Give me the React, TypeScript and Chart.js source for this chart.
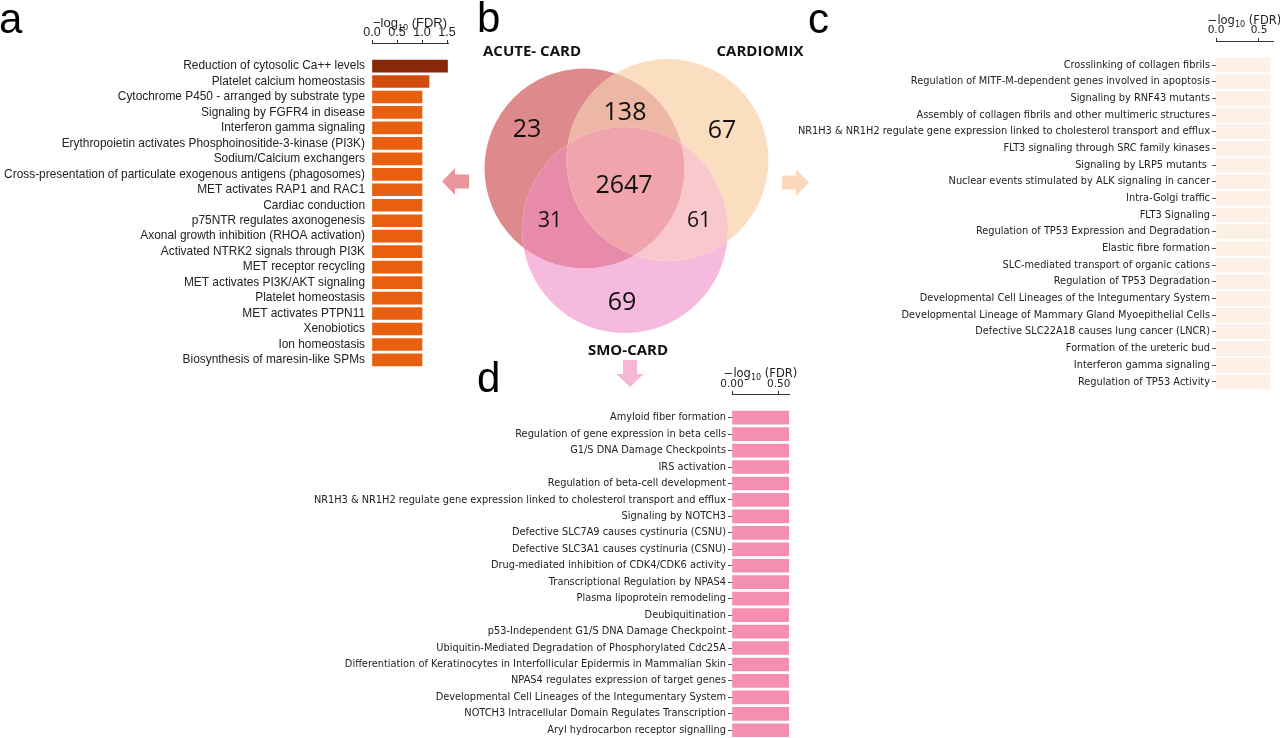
import { useEffect, useRef } from "react";
import { Chart, registerables } from "chart.js";

Chart.register(...registerables);

// panel a: ACUTE-CARD specific pathways
const acuteLabels = [
  "Reduction of cytosolic Ca++ levels",
  "Platelet calcium homeostasis",
  "Cytochrome P450 - arranged by substrate type",
  "Signaling by FGFR4 in disease",
  "Interferon gamma signaling",
  "Erythropoietin activates Phosphoinositide-3-kinase (PI3K)",
  "Sodium/Calcium exchangers",
  "Cross-presentation of particulate exogenous antigens (phagosomes)",
  "MET activates RAP1 and RAC1",
  "Cardiac conduction",
  "p75NTR regulates axonogenesis",
  "Axonal growth inhibition (RHOA activation)",
  "Activated NTRK2 signals through PI3K",
  "MET receptor recycling",
  "MET activates PI3K/AKT signaling",
  "Platelet homeostasis",
  "MET activates PTPN11",
  "Xenobiotics",
  "Ion homeostasis",
  "Biosynthesis of maresin-like SPMs",
];
const acuteValues = [1.51, 1.14, 1.0, 1.0, 1.0, 1.0, 1.0, 1.0, 1.0, 1.0, 1.0, 1.0, 1.0, 1.0, 1.0, 1.0, 1.0, 1.0, 1.0, 1.0];

// panel c: CARDIOMIX specific pathways
const cardioLabels = [
  "Crosslinking of collagen fibrils",
  "Regulation of MITF-M-dependent genes involved in apoptosis",
  "Signaling by RNF43 mutants",
  "Assembly of collagen fibrils and other multimeric structures",
  "NR1H3 & NR1H2 regulate gene expression linked to cholesterol transport and efflux",
  "FLT3 signaling through SRC family kinases",
  "Signaling by LRP5 mutants ",
  "Nuclear events stimulated by ALK signaling in cancer",
  "Intra-Golgi traffic",
  "FLT3 Signaling",
  "Regulation of TP53 Expression and Degradation",
  "Elastic fibre formation",
  "SLC-mediated transport of organic cations",
  "Regulation of TP53 Degradation",
  "Developmental Cell Lineages of the Integumentary System",
  "Developmental Lineage of Mammary Gland Myoepithelial Cells",
  "Defective SLC22A18 causes lung cancer (LNCR)",
  "Formation of the ureteric bud",
  "Interferon gamma signaling",
  "Regulation of TP53 Activity",
];
const cardioValues = [0.63, 0.63, 0.63, 0.63, 0.63, 0.63, 0.63, 0.63, 0.63, 0.63, 0.63, 0.63, 0.63, 0.63, 0.63, 0.63, 0.63, 0.63, 0.63, 0.63];

// panel d: SMO-CARD specific pathways
const smoLabels = [
  "Amyloid fiber formation",
  "Regulation of gene expression in beta cells",
  "G1/S DNA Damage Checkpoints",
  "IRS activation",
  "Regulation of beta-cell development",
  "NR1H3 & NR1H2 regulate gene expression linked to cholesterol transport and efflux",
  "Signaling by NOTCH3",
  "Defective SLC7A9 causes cystinuria (CSNU)",
  "Defective SLC3A1 causes cystinuria (CSNU)",
  "Drug-mediated inhibition of CDK4/CDK6 activity",
  "Transcriptional Regulation by NPAS4",
  "Plasma lipoprotein remodeling",
  "Deubiquitination",
  "p53-Independent G1/S DNA Damage Checkpoint",
  "Ubiquitin-Mediated Degradation of Phosphorylated Cdc25A",
  "Differentiation of Keratinocytes in Interfollicular Epidermis in Mammalian Skin",
  "NPAS4 regulates expression of target genes",
  "Developmental Cell Lineages of the Integumentary System",
  "NOTCH3 Intracellular Domain Regulates Transcription",
  "Aryl hydrocarbon receptor signalling",
];
const smoValues = [0.606, 0.606, 0.606, 0.606, 0.606, 0.606, 0.606, 0.606, 0.606, 0.606, 0.606, 0.606, 0.606, 0.606, 0.606, 0.606, 0.606, 0.606, 0.606, 0.606];

// venn: sets, circles (abstract units), regions keyed by bit mask (1 acute, 2 cardiomix, 4 smo)
const vennSets = ["ACUTE- CARD", "CARDIOMIX", "SMO-CARD"];
const vennX = [-0.555, 0.275, -0.15];
const vennY = [0.315, 0.4, -0.3];
const vennR = [1.0, 1.01, 1.03];
const setLabelX = [-1.08, 1.2, -0.12];
const setLabelY = [1.48, 1.48, -1.51];
const regionMasks = [1, 2, 4, 3, 5, 6, 7];
const regionCounts = [23, 67, 69, 138, 31, 61, 2647];
const regionLabelX = [-1.13, 0.82, -0.18, -0.15, -0.9, 0.59, -0.16];
const regionLabelY = [0.7, 0.69, -1.03, 0.87, -0.21, -0.21, 0.14];
const regionColors = ["#de898c", "#fbddc0", "#f6bade", "#ecb7a5", "#e88aaa", "#f8c8cd", "#efa5ab"];
const regionFont = [25, 25, 25, 25, 21, 21, 25];
const arrowX = [-1.98, 1.69, -0.1];
const arrowY = [0.185, 0.175, -1.87];
const arrowAngle = [Math.PI, 0, Math.PI / 2];
const arrowColors = ["#e8969b", "#fcd8ba", "#f7b6d9"];

const acuteColors = acuteValues.map((v) => (v > 1.4 ? "#85290a" : v > 1.1 ? "#d24b0c" : "#e8600f"));

type PanelProps = {
  labels: string[];
  values: number[];
  colors: string[] | string;
  left: number;
  top: number;
  width: number;
  height: number;
  yAxisWidth: number;
  xAxisHeight: number;
  padRight: number;
  yMin: number;
  yMax: number;
  xMax: number;
  decimals: number;
  barThickness: number;
  family: string;
  labelSize: number;
  tickSize: number;
  titleSize: number;
  titleBase: number;
  labelPadding: number;
  yTicks: boolean;
  tickPad: number;
};

function BarPanel(p: PanelProps) {
  const ref = useRef<HTMLCanvasElement>(null);

  useEffect(() => {
    let chart: Chart | undefined;
    // -log10(FDR) drawn with a real subscript, centred over the value axis
    const fdrTitle = {
      id: "fdrTitle",
      afterDraw(c: any) {
        const { ctx, chartArea: a } = c;
        const s = p.titleSize;
        const parts: [string, number, number][] = [
          ["−log", s, 0],
          ["10", s * 0.7, s * 0.25],
          [" (FDR)", s, 0],
        ];
        ctx.save();
        ctx.fillStyle = "#222";
        ctx.textAlign = "left";
        ctx.textBaseline = "alphabetic";
        let total = 0;
        parts.forEach(([t, size]) => {
          ctx.font = `${size}px ${p.family}`;
          total += ctx.measureText(t).width;
        });
        let x = (a.left + a.right) / 2 - total / 2;
        parts.forEach(([t, size, dy]) => {
          ctx.font = `${size}px ${p.family}`;
          ctx.fillText(t, x, p.titleBase + dy);
          x += ctx.measureText(t).width;
        });
        ctx.restore();
      },
    };

    if (ref.current) {
      chart = new Chart(ref.current, {
        type: "bar",
        data: {
          datasets: [
            {
              data: p.values.map((v, i) => ({ x: v, y: i })),
              backgroundColor: p.colors,
              barThickness: p.barThickness,
              borderWidth: 0,
            },
          ],
        },
        options: {
          indexAxis: "y",
          responsive: false,
          animation: false,
          events: [],
          layout: { padding: { left: 0, top: 0, right: p.padRight, bottom: 0 } },
          plugins: { legend: { display: false }, tooltip: { enabled: false } },
          scales: {
            x: {
              type: "linear",
              position: "top",
              min: 0,
              max: p.xMax,
              afterFit: (s: any) => {
                s.height = p.xAxisHeight;
                s.paddingLeft = 0;
                s.paddingRight = 0;
              },
              ticks: {
                stepSize: 0.5,
                includeBounds: false,
                maxRotation: 0,
                padding: p.tickPad,
                color: "#222",
                font: { family: p.family, size: p.tickSize },
                callback: (v: any) => Number(v).toFixed(p.decimals),
              },
              grid: { drawOnChartArea: false, drawTicks: true, tickLength: 3, color: "#333" },
              border: { display: true, color: "#333", width: 1 },
              title: { display: false },
            },
            y: {
              type: "linear",
              reverse: true,
              offset: false,
              min: p.yMin,
              max: p.yMax,
              afterFit: (s: any) => {
                s.width = p.yAxisWidth;
                s.paddingTop = 0;
                s.paddingBottom = 0;
              },
              afterBuildTicks: (s: any) => {
                s.ticks = p.labels.map((_, i) => ({ value: i }));
              },
              ticks: {
                autoSkip: false,
                padding: p.labelPadding,
                color: "#222",
                font: { family: p.family, size: p.labelSize },
                callback: (v: any) => p.labels[Number(v)] ?? "",
              },
              grid: { offset: false, drawOnChartArea: false, drawTicks: p.yTicks, tickLength: 4, color: "#555" },
              border: { display: false },
            },
          },
        },
        plugins: [fdrTitle],
      } as any);
    }
    return () => {
      chart?.destroy();
    };
  }, []);

  return (
    <canvas
      ref={ref}
      width={p.width}
      height={p.height}
      style={{ position: "absolute", left: p.left, top: p.top }}
    />
  );
}

const vennPlugin = {
  id: "vennRegions",
  beforeDatasetsDraw(chart: any) {
    const { ctx, chartArea: a } = chart;
    const sx = chart.scales.x;
    const pts = chart.getDatasetMeta(0).data;
    const unit = sx.getPixelForValue(1) - sx.getPixelForValue(0);
    regionMasks.forEach((mask, k) => {
      ctx.save();
      pts.forEach((el: any, i: number) => {
        const r = vennR[i] * unit;
        ctx.beginPath();
        if (mask & (1 << i)) {
          ctx.arc(el.x, el.y, r, 0, Math.PI * 2);
          ctx.clip();
        } else {
          ctx.rect(a.left, a.top, a.width, a.height);
          ctx.arc(el.x, el.y, r, 0, Math.PI * 2);
          ctx.clip("evenodd");
        }
      });
      ctx.fillStyle = regionColors[k];
      ctx.fillRect(a.left, a.top, a.width, a.height);
      ctx.restore();
    });
  },
  afterDatasetsDraw(chart: any) {
    const { ctx } = chart;
    const sx = chart.scales.x;
    const sy = chart.scales.y;
    ctx.save();
    ctx.textAlign = "center";
    ctx.textBaseline = "middle";
    ctx.fillStyle = "#111";
    regionCounts.forEach((n, k) => {
      ctx.font = `${regionFont[k]}px "Open Sans"`;
      ctx.fillText(String(n), sx.getPixelForValue(regionLabelX[k]), sy.getPixelForValue(regionLabelY[k]));
    });
    ctx.font = 'bold 15px "Open Sans"';
    vennSets.forEach((s, i) => {
      ctx.fillText(s, sx.getPixelForValue(setLabelX[i]), sy.getPixelForValue(setLabelY[i]));
    });
    // block arrows pointing to each set's panel
    arrowX.forEach((ax, i) => {
      const len = 27;
      const head = 13;
      const hh = 13.5;
      const sh = 7;
      ctx.save();
      ctx.translate(sx.getPixelForValue(ax), sy.getPixelForValue(arrowY[i]));
      ctx.rotate(arrowAngle[i]);
      ctx.beginPath();
      ctx.moveTo(0, 0);
      ctx.lineTo(-head, -hh);
      ctx.lineTo(-head, -sh);
      ctx.lineTo(-len, -sh);
      ctx.lineTo(-len, sh);
      ctx.lineTo(-head, sh);
      ctx.lineTo(-head, hh);
      ctx.closePath();
      ctx.fillStyle = arrowColors[i];
      ctx.fill();
      ctx.restore();
    });
    ctx.restore();
  },
};

function Venn() {
  const ref = useRef<HTMLCanvasElement>(null);

  useEffect(() => {
    let chart: Chart | undefined;
    if (ref.current) {
      chart = new Chart(ref.current, {
        type: "bubble",
        data: {
          datasets: [
            {
              data: vennX.map((x, i) => ({ x, y: vennY[i], r: 0 })),
              backgroundColor: "rgba(0,0,0,0)",
              borderWidth: 0,
              radius: 0,
            },
          ],
        },
        options: {
          responsive: false,
          animation: false,
          events: [],
          layout: { padding: 0 },
          plugins: { legend: { display: false }, tooltip: { enabled: false } },
          scales: {
            x: { type: "linear", min: -2.2, max: 2.2, display: false },
            y: { type: "linear", min: -2, max: 2, display: false },
          },
        },
        plugins: [vennPlugin],
      } as any);
    }
    return () => {
      chart?.destroy();
    };
  }, []);

  return <canvas ref={ref} width={440} height={400} style={{ position: "absolute", left: 420, top: 0 }} />;
}

const letterStyle = {
  position: "absolute" as const,
  fontFamily: '"Liberation Sans", Arial, sans-serif',
  fontSize: 42,
  lineHeight: "42px",
  color: "#000",
};

export default function App() {
  return (
    <div
      style={{
        position: "absolute",
        left: 0,
        top: 0,
        width: 1280,
        height: 738,
        background: "#fff",
        overflow: "hidden",
      }}
    >
      <BarPanel
        labels={acuteLabels}
        values={acuteValues}
        colors={acuteColors}
        left={0}
        top={0}
        width={460}
        height={370}
        yAxisWidth={372}
        xAxisHeight={43}
        padRight={12}
        yMin={-1.49}
        yMax={19.65}
        xMax={1.52}
        decimals={1}
        barThickness={12}
        family='"Liberation Sans", Arial, sans-serif'
        labelSize={11.9}
        tickSize={12.5}
        titleSize={13}
        titleBase={27}
        labelPadding={7}
        yTicks={false}
        tickPad={0}
      />
      <Venn />
      <BarPanel
        labels={cardioLabels}
        values={cardioValues}
        colors="#fdf0e4"
        left={780}
        top={0}
        width={500}
        height={395}
        yAxisWidth={436}
        xAxisHeight={41}
        padRight={7}
        yMin={-1.44}
        yMax={19.78}
        xMax={0.663}
        decimals={1}
        barThickness={14}
        family='"DejaVu Sans", sans-serif'
        labelSize={9.8}
        tickSize={10.5}
        titleSize={11.5}
        titleBase={24}
        labelPadding={2}
        yTicks={true}
        tickPad={1}
      />
      <BarPanel
        labels={smoLabels}
        values={smoValues}
        colors="#f48fb1"
        left={300}
        top={355}
        width={500}
        height={383}
        yAxisWidth={432}
        xAxisHeight={39}
        padRight={11}
        yMin={-1.44}
        yMax={19.47}
        xMax={0.61}
        decimals={2}
        barThickness={13}
        family='"DejaVu Sans", sans-serif'
        labelSize={9.8}
        tickSize={10.5}
        titleSize={11.5}
        titleBase={22}
        labelPadding={2}
        yTicks={true}
        tickPad={0}
      />
      <div style={{ ...letterStyle, left: -1, top: -2 }}>a</div>
      <div style={{ ...letterStyle, left: 477, top: -3 }}>b</div>
      <div style={{ ...letterStyle, left: 808, top: -2 }}>c</div>
      <div style={{ ...letterStyle, left: 477, top: 357 }}>d</div>
    </div>
  );
}
